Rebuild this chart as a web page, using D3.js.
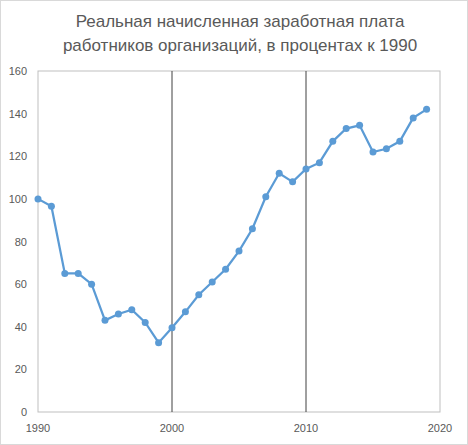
<!DOCTYPE html><html><head><meta charset="utf-8"><script src="https://cdn.jsdelivr.net/npm/d3@7"></script>
<style>body{margin:0;background:#fff}</style></head><body><svg id="c" width="468" height="445"></svg>
<script>
const years=[1990,1991,1992,1993,1994,1995,1996,1997,1998,1999,2000,2001,2002,2003,2004,2005,2006,2007,2008,2009,2010,2011,2012,2013,2014,2015,2016,2017,2018,2019];
const values=[100,96.5,65,65,60,43,46,48,42,32.5,39.5,47,55,61,67,75.5,86,101,112,108,114,117,127,133,134.5,122,123.5,127,138,142];
const xTicks=[1990,2000,2010,2020];
const yTicks=[0,20,40,60,80,100,120,140,160];
const titleLines=["Реальная начисленная заработная плата","работников организаций, в процентах к 1990"];
const svg=d3.select("#c");
svg.append("rect").attr("x",0.5).attr("y",0.5).attr("width",467).attr("height",444).attr("fill","#fff").attr("stroke","#d9d9d9");
const x=d3.scaleLinear().domain([1990,2020]).range([38,440]);
const y=d3.scaleLinear().domain([0,160]).range([412,71]);
svg.append("rect").attr("x",38).attr("y",71).attr("width",402).attr("height",341).attr("fill","none").attr("stroke","#bfbfbf");
svg.selectAll(".v").data([2000,2010]).join("line").attr("x1",d=>x(d)).attr("x2",d=>x(d)).attr("y1",71).attr("y2",412).attr("stroke","#404040").attr("stroke-width",1);
svg.selectAll(".yt").data(yTicks).join("text").attr("x",27).attr("y",d=>y(d)+4).attr("text-anchor","end").attr("font-family","Liberation Sans, Arial").attr("font-size",11).attr("fill","#595959").text(d=>d);
svg.selectAll(".xt").data(xTicks).join("text").attr("x",d=>x(d)).attr("y",432).attr("text-anchor","middle").attr("font-family","Liberation Sans, Arial").attr("font-size",11).attr("fill","#595959").text(d=>d);
svg.selectAll(".t").data(titleLines).join("text").attr("x",240).attr("y",(d,i)=>27+i*24).attr("text-anchor","middle").attr("font-family","Liberation Sans, Arial").attr("font-size",17).attr("fill","#595959").text(d=>d);
const data=years.map((d,i)=>[d,values[i]]);
svg.append("path").datum(data).attr("d",d3.line().x(d=>x(d[0])).y(d=>y(d[1]))).attr("fill","none").attr("stroke","#5b9bd5").attr("stroke-width",2.25);
svg.selectAll(".p").data(data).join("circle").attr("cx",d=>x(d[0])).attr("cy",d=>y(d[1])).attr("r",3.5).attr("fill","#5b9bd5");
</script></body></html>
